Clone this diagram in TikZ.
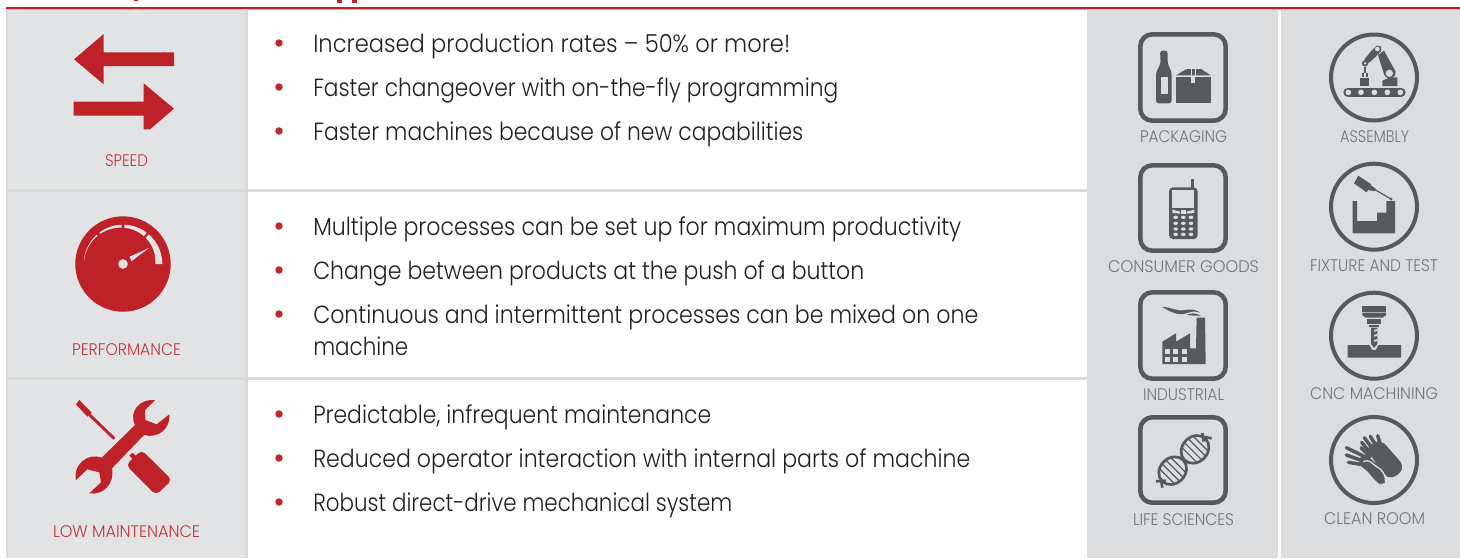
\documentclass[tikz,border=0pt]{standalone}
\usepackage{fontspec}
\usepackage{graphicx}
\setmainfont{Poppins}[UprightFont=* Light]
\definecolor{redm}{HTML}{BE2127}
\definecolor{redl}{HTML}{C2343A}
\definecolor{bul}{HTML}{C1272D}
\definecolor{pa}{HTML}{E2E3E5}
\definecolor{pb}{HTML}{DCDDDF}
\definecolor{sepc}{HTML}{D9DBDA}
\definecolor{ic}{HTML}{58595B}
\definecolor{lab}{HTML}{737578}
\definecolor{txt}{HTML}{231F20}
\newsavebox\fitbox
\newcommand{\fitw}[2]{\sbox\fitbox{#2}\pgfmathsetmacro\fitr{(#1*0.75)/\the\wd\fitbox}\scalebox{\fitr}[1]{\usebox\fitbox}}
\tikzset{
  zm/.style 2 args={x=.25pt,y=-.25pt,shift={(#1*3,#2*3)}},
  body/.style={anchor=base west,inner sep=0pt,text=txt,font=\fontsize{18.6pt}{22pt}\selectfont},
  lbl/.style={anchor=base,inner sep=0pt,text=lab,font=\fontsize{12.6pt}{15pt}\selectfont},
  rlbl/.style={anchor=base,inner sep=0pt,text=redl,font=\fontsize{12.6pt}{15pt}\selectfont},
  dot/.style={circle,fill=bul,inner sep=0pt,minimum size=5.6pt},
  sq/.style={draw=ic,line width=3.4pt,rounded corners=9pt},
  ring/.style={draw=ic,line width=3pt},
}
\newcommand{\bl}[5]{%
  \node[dot] (b#1) at (279,#3) {};
  \node[body] (t#1) at (313,#2) {\fitw{#4}{#5}};}
\begin{document}
\begin{tikzpicture}[x=.75pt,y=-.75pt]
\useasboundingbox (0,0) rectangle (1460,558);
\fill[white] (0,0) rectangle (1460,558);
% clipped title descenders
\fill[redm] (133.5,0) rectangle (138,1);
\fill[redm] (337,0) rectangle (342,2.7);
\fill[redm] (352,0) rectangle (357,2.7);
% panels
\fill[pa] (6,9) rectangle (247,558);
\fill[pb] (1087,9) rectangle (1278,558);
\fill[pb] (1281,9) rectangle (1460,558);
\fill[sepc] (6,9) rectangle (8,558);
\fill[sepc] (245,9) rectangle (248,558);
\fill[sepc] (6,189) rectangle (1087,192);
\fill[sepc] (6,377) rectangle (1087,380);
\fill[redm] (6,6.5) rectangle (1460,9);
\fill[redm!40!white] (6,9) rectangle (1460,9.8);
% body text
\bl{a}{52}{43}{477}{Increased production rates – 50\% or more!}
\bl{b}{96}{87}{525}{Faster changeover with on-the-fly programming}
\bl{c}{140}{131}{490}{Faster machines because of new capabilities}
\bl{d}{235}{226}{648}{Multiple processes can be set up for maximum productivity}
\bl{e}{279}{270}{551}{Change between products at the push of a button}
\bl{f}{323}{314}{665}{Continuous and intermittent processes can be mixed on one}
\node[body] (tg) at (313,355) {\fitw{95}{machine}};
\bl{h}{423}{414}{398}{Predictable, infrequent maintenance}
\bl{i}{467}{458}{657}{Reduced operator interaction with internal parts of machine}
\bl{j}{511}{502}{419}{Robust direct-drive mechanical system}
% red labels
\node[rlbl] (speed) at (126.5,166.7) {\fitw{43}{SPEED}};
\node[rlbl] (perf) at (126.5,355) {\fitw{109}{PERFORMANCE}};
\node[rlbl] (lowm) at (126.5,537.3) {\fitw{147}{LOW MAINTENANCE}};
% speed arrows
\fill[redm] (74,59.3) -- (103.7,34) -- (103.7,52.3) -- (174,52.3) -- (174,66) -- (103.7,66) -- (103.7,84.3) -- cycle;
\fill[redm] (174,108.7) -- (143.7,83.3) -- (143.7,101.7) -- (73.7,101.7) -- (73.7,115.7) -- (143.7,115.7) -- (143.7,129.3) -- (150,129.3) -- cycle;
% gauge
\begin{scope}[shift={(123,264)}]
\fill[redm] (0,0) circle (47.7);
\foreach \a/\b in {0/49,53/88,92/127,132/175}{
  \fill[pa] plot[domain=\a:\b,samples=14] ({-\x}:{39.3}) -- plot[domain=\b:\a,samples=14] ({-\x}:{39.3-7*pow(1-\x/185,1.3)}) -- cycle;
}
\fill[pa] (0,0) circle (4.8);
\fill[pa] (6.5,-7.2) -- (26,-16) -- (8.5,-2.8) -- cycle;
\end{scope}
% wrench and screwdriver
\begin{scope}[zm={0}{375}]
\fill[redm] (465,75) -- (435,105) -- (436,135) -- (470,148) -- (508,118)
  .. controls (512,160) and (475,192) .. (432,180) -- (336,280)
  .. controls (345,325) and (310,362) .. (268,355) -- (303,322) -- (298,292) -- (262,283) -- (228,315)
  .. controls (218,270) and (262,232) .. (305,248) -- (405,150)
  .. controls (385,110) and (420,70) .. (465,75) -- cycle;
\fill[redm] (238,75) -- (228,88) -- (262,125) -- (275,113) -- cycle;
\draw[redm,line width=2.2pt] (268,119) -- (343,191);
\fill[redm,rounded corners=3.5pt] (378,270) -- (425,225) -- (516,315) -- (468,360) -- cycle;
\fill[redm] (388,242) -- (398,233) -- (412,247) -- (402,256) -- cycle;
\end{scope}
% square icons
\draw[sq] (1140.3,34.3) rectangle (1225.7,120.7);
\draw[sq] (1140.3,165.3) rectangle (1225.7,250.7);
\draw[sq] (1140.3,292.3) rectangle (1225.7,378.7);
\draw[sq] (1140.3,417.3) rectangle (1225.7,502.7);
% packaging
\begin{scope}[zm={1085}{20}]
\fill[ic,rounded corners=2pt] (225,92) -- (248,92) -- (248,130) -- (260,158) -- (260,250) -- (213,250) -- (213,158) -- (227,130) -- cycle;
\fill[pb] (228,172) rectangle (250,222);
\fill[ic] (273,170) rectangle (377,250);
\fill[ic] (273,166) -- (305,147) -- (348,147) -- (377,166) -- cycle;
\fill[pb] (318,168) rectangle (331,190);
\draw[pb,line width=.6pt] (318,147) -- (318,168);
\draw[pb,line width=.6pt] (331,147) -- (331,168);
\end{scope}
% phone
\begin{scope}[zm={1085}{155}]
\fill[ic] (318,72) rectangle (327,100);
\fill[ic,rounded corners=3pt] (252,97) rectangle (338,252);
\fill[pb] (262,105) rectangle (328,160);
\foreach \y in {187,205,222,238}\foreach \x in {272,295,318}{\fill[pb] (\x,\y) ellipse (7 and 5);}
\fill[pb] (262,164) -- (285,170) -- (285,176) -- (262,174) -- cycle;
\fill[pb] (328,164) -- (305,170) -- (305,176) -- (328,174) -- cycle;
\fill[pb] (288,166) rectangle (302,176);
\end{scope}
% factory
\begin{scope}[zm={1085}{280}]
\fill[ic] (232,252) -- (232,185) -- (273,160) -- (273,185) -- (315,160) -- (315,205) -- (333,205) -- (335,113) -- (360,113) -- (362,252) -- cycle;
\foreach \x in {240,265,290}\foreach \y in {207,232}{\fill[pb] (\x,\y) rectangle +(15,15);}
\fill[ic] (230,80) .. controls (262,82) and (272,95) .. (300,90) .. controls (315,87) and (330,88) .. (345,97) .. controls (325,92) and (315,96) .. (300,101) .. controls (275,106) and (255,95) .. (230,80) -- cycle;
\fill[ic] (305,104) .. controls (320,97) and (335,100) .. (348,108) .. controls (335,106) and (320,108) .. (305,104) -- cycle;
\end{scope}
% DNA
\begin{scope}[zm={1085}{405}]
\foreach \cx/\cy in {263/197,330/133}{
 \begin{scope}[shift={(\cx,\cy)},rotate=45]
  \begin{scope}
   \clip (0,0) ellipse (45 and 38);
   \foreach \t in {-24,-8,8,24}{\draw[ic,line width=.9pt] (\t,-42) -- (\t,42);}
  \end{scope}
  \draw[ic,line width=2pt] (0,0) ellipse (45 and 38);
 \end{scope}
}
\draw[ic,line width=2pt] (213,229) -- (243,227);
\draw[ic,line width=2pt] (232,248) -- (228,222);
\draw[ic,line width=2pt] (352,84) -- (356,110);
\draw[ic,line width=2pt] (352,95) -- (380,100);
\end{scope}
% square labels
\node[lbl] (l1) at (1183.5,142.7) {\fitw{87}{PACKAGING}};
\node[lbl] (l2) at (1183.5,272.8) {\fitw{151}{CONSUMER GOODS}};
\node[lbl] (l3) at (1183.5,400.3) {\fitw{81}{INDUSTRIAL}};
\node[lbl] (l4) at (1183.5,525.3) {\fitw{101}{LIFE SCIENCES}};
% circle icons
\draw[ring] (1374,77.5) circle (43);
\draw[ring] (1374,206.7) circle (43);
\draw[ring] (1374,335.7) circle (43);
\draw[ring] (1374,460) circle (43);
% robot
\begin{scope}[zm={1275}{20}]
\draw[ic,line width=6.75pt,line cap=round] (218.5,216.5) -- (378.5,216.5);
\foreach \x in {220,258,298,337,376}{\fill[pb] (\x,217) circle (8.5);}
\fill[ic] (255,173) rectangle (283,197);
\fill[ic] (322,182) -- (345,172) -- (367,172) -- (367,198) -- (322,198) -- cycle;
\fill[ic] (309,105) -- (327,92) -- (362,155) .. controls (366,172) and (340,185) .. (328,165) -- cycle;
\fill[pb] (343,160) circle (11);
\fill[ic,rounded corners=3pt] (262,125) -- (300,80) -- (312,74) -- (322,85) -- (315,98) -- (275,135) -- cycle;
\fill[pb] (307,87) circle (7);
\fill[ic] (270,130) circle (9.5);
\fill[pb] (270,130) circle (4);
\fill[ic] (266,142) rectangle (274,158);
\fill[ic] (262,158) rectangle (267,170);
\fill[ic] (273,158) rectangle (278,170);
\end{scope}
% fixture
\begin{scope}[zm={1275}{150}]
\fill[ic] (233,153) -- (246,153) -- (246,213) -- (306,213) -- (306,188) -- (334,188) -- (334,153) -- (360,153) -- (360,250) -- (233,250) -- cycle;
\fill[ic] (250,77) -- (237,100) -- (275,127) -- (289,103) -- cycle;
\fill[ic] (279,120) -- (298,124) -- (302,116) -- (288,106) -- cycle;
\draw[ic,line width=.9pt] (298,118) -- (348,147);
\fill[ic] (348,147) circle (5);
\end{scope}
% cnc
\begin{scope}[zm={1275}{280}]
\fill[ic] (262,78) rectangle (333,95);
\fill[ic] (262,98) -- (333,98) -- (333,106) -- (322,113) -- (273,113) -- (262,106) -- cycle;
\fill[ic] (277,118) rectangle (318,131);
\fill[ic] (283,134) rectangle (312,140);
\fill[ic] (288,143) -- (307,143) -- (307,192) -- (297,204) -- (288,192) -- cycle;
\foreach \y in {150,165,180}{\fill[pb] (297,\y) -- (307,\y-3) -- (307,\y+3) -- (297,\y+5) -- cycle;}
\fill[ic] (218,195) -- (283,195) -- (292,210) -- (302,210) -- (311,195) -- (378,195) -- (378,233) -- (218,233) -- cycle;
\end{scope}
% gloves
\begin{scope}[zm={1275}{405}]
\begin{scope}[ic,line cap=round,line width=2.6pt]
\draw (318,125) -- (308,92);
\draw (308,130) -- (286,94);
\draw (295,135) -- (268,98);
\draw (284,142) -- (260,112);
\end{scope}
\fill[ic,rounded corners=4pt] (272,130) -- (300,110) -- (322,108) -- (385,180) -- (375,208) -- (338,222) -- (300,170) -- cycle;
\begin{scope}[ic,line cap=round,line width=2.6pt]
\draw (275,158) -- (214,128);
\draw (270,170) -- (214,150);
\draw (270,180) -- (220,172);
\draw (258,128) -- (285,155);
\end{scope}
\fill[ic,rounded corners=4pt] (255,150) -- (275,150) -- (290,165) -- (312,182) -- (333,222) -- (325,243) -- (305,232) -- (272,192) -- (250,180) -- cycle;
\draw[pb,line width=1pt] (265,170) .. controls (285,162) and (290,175) .. (305,185) .. controls (320,193) and (328,205) .. (333,222);
\end{scope}
% circle labels
\node[lbl] (r1) at (1374.5,142.5) {\fitw{69}{ASSEMBLY}};
\node[lbl] (r2) at (1374,271.5) {\fitw{128}{FIXTURE AND TEST}};
\node[lbl] (r3) at (1374,399.1) {\fitw{128}{CNC MACHINING}};
\node[lbl] (r4) at (1374.5,524.1) {\fitw{101}{CLEAN ROOM}};
\end{tikzpicture}
\end{document}
